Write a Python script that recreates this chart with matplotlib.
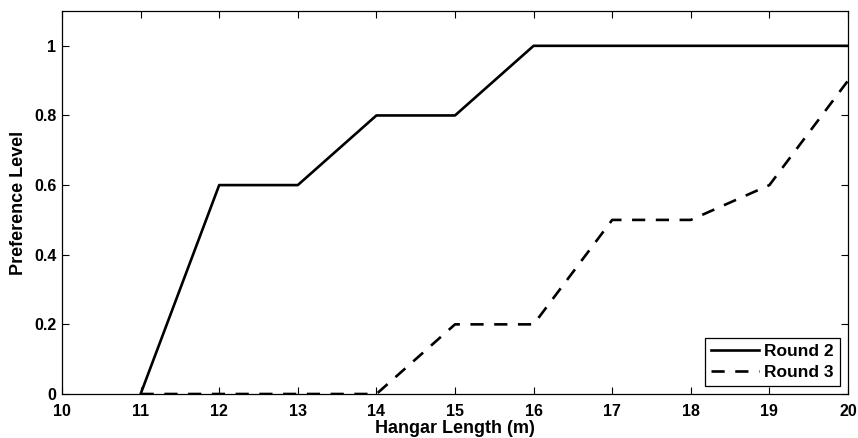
import matplotlib
matplotlib.use("Agg")
import matplotlib.pyplot as plt

x = [11, 12, 13, 14, 15, 16, 17, 18, 19, 20]
round2 = [0, 0.6, 0.6, 0.8, 0.8, 1.0, 1.0, 1.0, 1.0, 1.0]
round3 = [0, 0, 0, 0, 0.2, 0.2, 0.5, 0.5, 0.6, 0.9]
xticks = list(range(10, 21))
yticks = [0, 0.2, 0.4, 0.6, 0.8, 1]
ytick_labels = ["0", "0.2", "0.4", "0.6", "0.8", "1"]

plt.rcParams['font.family'] = ['Liberation Sans', 'DejaVu Sans']
plt.rcParams['font.weight'] = 'bold'

fig = plt.figure(figsize=(8.58, 4.38), dpi=100)
ax = fig.add_axes([62/858, 1 - 394/438, (848-62)/858, (394-11)/438])
ax.plot(x, round2, color='black', linewidth=1.9, linestyle='-', label='Round 2')
ax.plot(x, round3, color='black', linewidth=1.9, linestyle=(0, (5, 4)), label='Round 3')
ax.set_xlim(10, 20)
ax.set_ylim(0, 1.1)
ax.set_xticks(xticks)
ax.set_xticklabels([str(t) for t in xticks])
ax.set_yticks(yticks)
ax.set_yticklabels(ytick_labels)
ax.tick_params(axis='both', direction='in', top=True, right=True, labelsize=11.5, length=5, width=0.8)
ax.tick_params(axis='x', pad=7)
ax.tick_params(axis='y', pad=4)
for s in ax.spines.values():
    s.set_linewidth(0.9)
ax.set_xlabel('Hangar Length (m)', fontsize=13, fontweight='bold', labelpad=1)
ax.set_ylabel('Preference Level', fontsize=13, fontweight='bold', labelpad=5)
leg = ax.legend(loc='lower right', fontsize=12.5, frameon=True, fancybox=False,
                edgecolor='black', framealpha=1, handlelength=2.8, borderpad=0.35,
                labelspacing=0.35, handletextpad=0.3, borderaxespad=0.45)
leg.get_frame().set_linewidth(0.9)
fig.savefig('out.png', dpi=100)
